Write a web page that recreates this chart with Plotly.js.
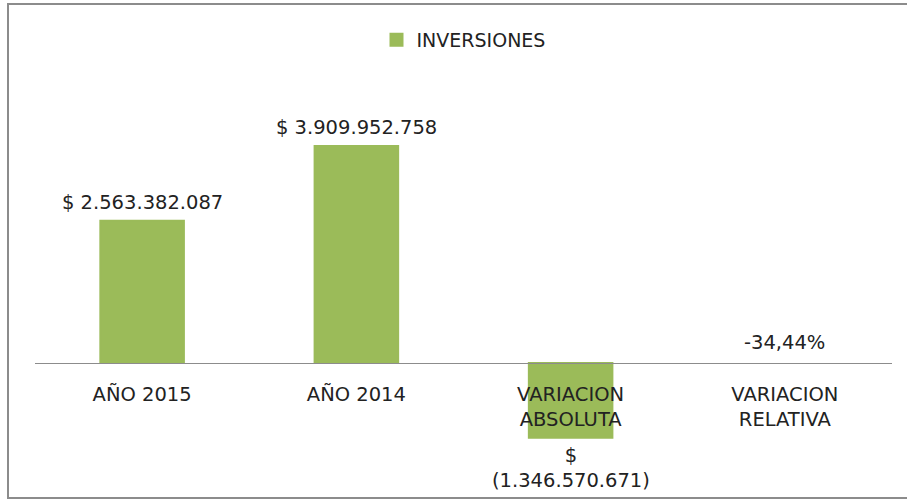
<!DOCTYPE html>
<html>
<head>
<meta charset="utf-8">
<script src="https://cdn.plot.ly/plotly-3.0.1.min.js"></script>
<style>
  html, body { margin: 0; padding: 0; background: #fff; }
  #chart { width: 907px; height: 500px; }
  #frame { position: absolute; left: 7px; top: 3px; width: 1000px; height: 492px;
           border: 2px solid #8c8c8c; pointer-events: none; }
</style>
</head>
<body>
<div id="chart"></div>
<div id="frame"></div>
<script>
// Data
const categories = ["AÑO 2015", "AÑO 2014", "VARIACION<br>ABSOLUTA", "VARIACION<br>RELATIVA"];
const values = [2563382087, 3909952758, -1346570671, -0.3444];
const dataLabels = ["$ 2.563.382.087", "$ 3.909.952.758", "$<br>(1.346.570.671)", "-34,44%"];
const seriesName = "INVERSIONES";

const yRange = [-1.928e9, 5.099e9];
const font = "DejaVu Sans";
const textColor = "#222222";
const green = "#9BBB59";

const trace = {
  type: "bar",
  x: categories,
  y: values,
  name: seriesName,
  marker: {
    color: green,
    line: { color: green, width: values.map(v => Math.abs(v) > 1 ? 2 : 0) }
  },
  showlegend: true,
  hoverinfo: "skip"
};

const annotations = categories.map((c, i) => {
  const v = values[i];
  const big = Math.abs(v) > 1;
  const neg = big && v < 0;
  return {
    x: c, y: big ? v : 0, xref: "x", yref: "y",
    text: dataLabels[i], showarrow: false,
    yanchor: neg ? "top" : "bottom",
    yshift: neg ? -4 : (big ? 5 : 7),
    font: { family: font, size: 19.5, color: textColor }
  };
});

const layout = {
  width: 907, height: 500,
  margin: { l: 35, r: 15, t: 80, b: 30 },
  paper_bgcolor: "rgba(0,0,0,0)",
  plot_bgcolor: "rgba(0,0,0,0)",
  bargap: 0.61,
  showlegend: true,
  legend: {
    orientation: "h", x: 0.5, xanchor: "center", y: 1.1026, yanchor: "middle",
    font: { family: font, size: 19, color: textColor }
  },
  xaxis: {
    type: "category",
    anchor: "free",
    position: (0 - yRange[0]) / (yRange[1] - yRange[0]),
    showline: true, linecolor: "#8c8c8c", linewidth: 1.5,
    ticks: "", showgrid: false,
    tickfont: { family: font, size: 19.5, color: textColor },
    ticklabelstandoff: 13
  },
  yaxis: {
    range: yRange, visible: false, showgrid: false, zeroline: false
  },
  annotations: annotations
};

Plotly.newPlot("chart", [trace], layout, { displayModeBar: false, staticPlot: true });
</script>
</body>
</html>
